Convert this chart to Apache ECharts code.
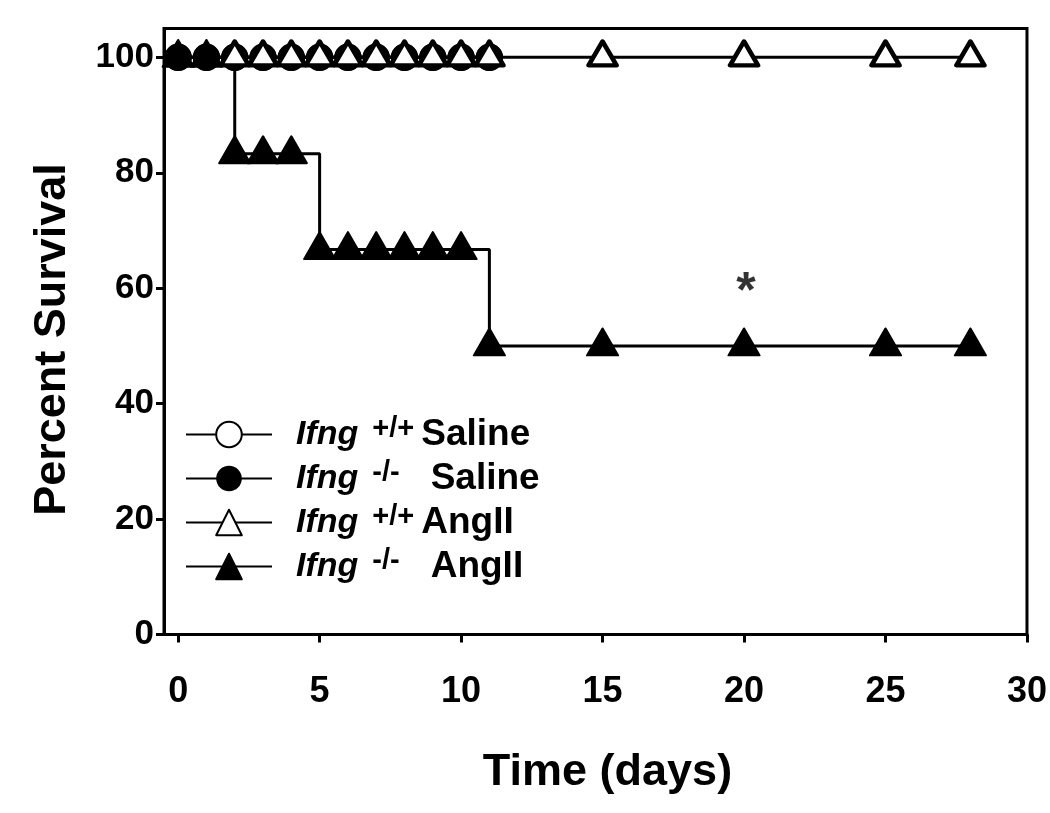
<!DOCTYPE html>
<html>
<head>
<meta charset="utf-8">
<script src="https://cdn.jsdelivr.net/npm/echarts@6/dist/echarts.min.js"></script>
<style>
html,body{margin:0;padding:0;background:#fff;}
#chart{width:1050px;height:813px;}
</style>
</head>
<body>
<div id="chart"></div>
<script>
// ---- data ----
var xTicks = [0, 5, 10, 15, 20, 25, 30];
var yTicks = [0, 20, 40, 60, 80, 100];
var salineDays = [0, 1, 2, 3, 4, 5, 6, 7, 8, 9, 10, 11];
var wtSaline = [100, 100, 100, 100, 100, 100, 100, 100, 100, 100, 100, 100];
var koSaline = [100, 100, 100, 100, 100, 100, 100, 100, 100, 100, 100, 100];
var wtAngDays = [2, 3, 4, 5, 6, 7, 8, 9, 10, 11, 15, 20, 25, 28];
var wtAngII = [100, 100, 100, 100, 100, 100, 100, 100, 100, 100, 100, 100, 100, 100];
var koAngDays = [0, 1, 2, 3, 4, 5, 6, 7, 8, 9, 10, 11, 15, 20, 25, 28];
var koAngII = [100, 100, 83.3, 83.3, 83.3, 66.7, 66.7, 66.7, 66.7, 66.7, 66.7, 50, 50, 50, 50, 50];
var starPoint = [20, 61];
var seriesNames = ['Ifng +/+ Saline', 'Ifng -/- Saline', 'Ifng +/+ AngII', 'Ifng -/- AngII'];
var legendRich = {
  'Ifng +/+ Saline': '{i|Ifng}{sup|+/+}{t|Saline}',
  'Ifng -/- Saline': '{i|Ifng}{sup|-/-}{t2|Saline}',
  'Ifng +/+ AngII': '{i|Ifng}{sup|+/+}{t|AngII}',
  'Ifng -/- AngII': '{i|Ifng}{sup|-/-}{t2|AngII}'
};

function pairs(xs, ys) { return xs.map(function (x, i) { return [x, ys[i]]; }); }

var FONT = '"Liberation Sans", Arial, sans-serif';
var chart = echarts.init(document.getElementById('chart'), null, {renderer: 'canvas'});
var lineStyle = {color: '#000', width: 3};

chart.setOption({
  animation: false,
  backgroundColor: '#fff',
  grid: {
    left: 164, top: 28.5, right: 19, bottom: 178.5,
    show: true, borderColor: '#000', borderWidth: 3, backgroundColor: 'transparent'
  },
  xAxis: {
    type: 'value', min: -0.5, max: 30,
    name: 'Time (days)', nameLocation: 'middle', nameGap: 116,
    nameTextStyle: {fontFamily: FONT, fontWeight: 'bold', fontSize: 45, color: '#000', padding: [0, 0, 0, 24]},
    axisLine: {show: true, onZero: false, lineStyle: {color: '#000', width: 3}},
    axisTick: {show: true, customValues: xTicks, length: 8, lineStyle: {color: '#000', width: 3}},
    axisLabel: {customValues: xTicks, margin: 40, fontFamily: FONT, fontWeight: 'bold', fontSize: 36, color: '#000'},
    splitLine: {show: false}
  },
  yAxis: {
    type: 'value', min: 0, max: 105,
    name: 'Percent Survival', nameLocation: 'middle', nameGap: 89, nameRotate: 90,
    nameTextStyle: {fontFamily: FONT, fontWeight: 'bold', fontSize: 45, color: '#000', padding: [0, 16, 0, 0]},
    axisLine: {show: true, onZero: false, lineStyle: {color: '#000', width: 3}},
    axisTick: {show: true, customValues: yTicks, length: 8, lineStyle: {color: '#000', width: 3}},
    axisLabel: {customValues: yTicks, margin: 10, fontFamily: FONT, fontWeight: 'bold', fontSize: 35, color: '#000'},
    splitLine: {show: false}
  },
  legend: {
    data: seriesNames,
    orient: 'vertical', left: 185, top: 414, padding: 0,
    itemWidth: 86, itemHeight: 32, itemGap: 3,
    selectedMode: false,
    formatter: function (name) { return legendRich[name]; },
    textStyle: {
      color: '#000', fontFamily: FONT, fontWeight: 'bold', fontSize: 34,
      rich: {
        i: {fontFamily: FONT, fontWeight: 'bold', fontStyle: 'italic', fontSize: 34, lineHeight: 34, color: '#000', padding: [0, 0, 0, 19]},
        sup: {fontFamily: FONT, fontWeight: 'bold', fontSize: 29, lineHeight: 18, color: '#000', padding: [0, 7, 12, 14]},
        t: {fontFamily: FONT, fontWeight: 'bold', fontSize: 37, lineHeight: 34, color: '#000'},
        t2: {fontFamily: FONT, fontWeight: 'bold', fontSize: 37, lineHeight: 34, color: '#000', padding: [0, 0, 0, 24]}
      }
    }
  },
  series: [
    {
      name: seriesNames[0], type: 'line', z: 2, data: pairs(salineDays, wtSaline),
      symbol: 'circle', symbolSize: 24, showAllSymbol: true,
      lineStyle: lineStyle,
      itemStyle: {color: '#fff', borderColor: '#000', borderWidth: 3.5}
    },
    {
      name: seriesNames[1], type: 'line', z: 2, data: pairs(salineDays, koSaline),
      symbol: 'circle', symbolSize: 27, showAllSymbol: true,
      lineStyle: lineStyle,
      itemStyle: {color: '#000', borderColor: '#000', borderWidth: 0}
    },
    {
      name: seriesNames[2], type: 'line', z: 4, data: pairs(wtAngDays, wtAngII),
      symbol: 'triangle', symbolSize: [28, 24], symbolOffset: [0, -4], showAllSymbol: true,
      lineStyle: lineStyle,
      itemStyle: {color: '#fff', borderColor: '#000', borderWidth: 4.5, borderJoin: 'round'}
    },
    {
      name: seriesNames[3], type: 'line', z: 3, step: 'end', data: pairs(koAngDays, koAngII),
      symbol: 'triangle', symbolSize: [31, 27], symbolOffset: [0, -4], showAllSymbol: true,
      lineStyle: lineStyle,
      itemStyle: {color: '#000', borderColor: '#000', borderWidth: 2, borderJoin: 'round'}
    },
    {
      name: 'star', type: 'scatter', z: 5, data: [starPoint],
      symbolSize: 1, itemStyle: {color: 'transparent'},
      label: {show: true, position: 'inside', formatter: '*', fontFamily: FONT, fontWeight: 'bold', fontSize: 50, color: '#000', offset: [2, 11]}
    }
  ]
});
</script>
</body>
</html>
